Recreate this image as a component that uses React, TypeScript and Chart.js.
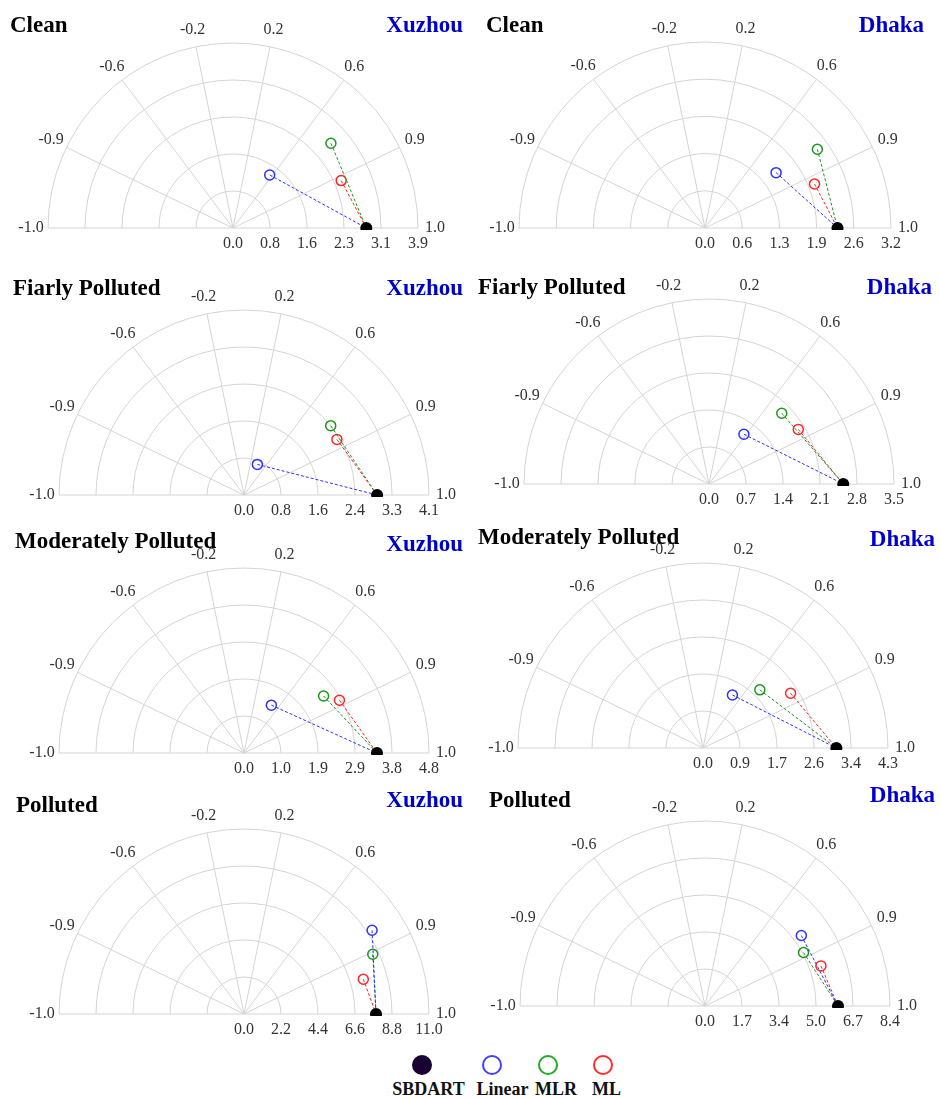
import React, { useEffect, useRef } from "react";
import { Chart, registerables } from "chart.js";

Chart.register(...registerables);

// ---------------- DATA ----------------
const categories = [
  "Clean", "Clean",
  "Fiarly Polluted", "Fiarly Polluted",
  "Moderately Polluted", "Moderately Polluted",
  "Polluted", "Polluted",
];
const cities = ["Xuzhou", "Dhaka", "Xuzhou", "Dhaka", "Xuzhou", "Dhaka", "Xuzhou", "Dhaka"];

const seriesNames = ["SBDART", "Linear", "MLR", "ML"];

// std-dev axis maxima and tick labels
const stdMax = [3.9, 3.2, 4.1, 3.5, 4.8, 4.3, 11.0, 8.4];
const stdTickLabels = [
  ["0.0", "0.8", "1.6", "2.3", "3.1", "3.9"],
  ["0.0", "0.6", "1.3", "1.9", "2.6", "3.2"],
  ["0.0", "0.8", "1.6", "2.4", "3.3", "4.1"],
  ["0.0", "0.7", "1.4", "2.1", "2.8", "3.5"],
  ["0.0", "1.0", "1.9", "2.9", "3.8", "4.8"],
  ["0.0", "0.9", "1.7", "2.6", "3.4", "4.3"],
  ["0.0", "2.2", "4.4", "6.6", "8.8", "11.0"],
  ["0.0", "1.7", "3.4", "5.0", "6.7", "8.4"],
];

// correlation grid
const corrTicks = [-0.9, -0.6, -0.2, 0.2, 0.6, 0.9];
const corrTickLabels = ["-0.9", "-0.6", "-0.2", "0.2", "0.6", "0.9"];
const corrEndLabels = ["-1.0", "1.0"];

// reference (SBDART) std
const refStd = [2.81, 2.28, 2.95, 2.54, 3.45, 3.10, 7.85, 6.04];
// Linear
const linearStd = [1.36, 1.55, 0.74, 1.15, 1.43, 1.41, 9.10, 5.42];
const linearCorr = [0.569, 0.789, 0.40, 0.574, 0.496, 0.485, 0.837, 0.807];
// MLR
const mlrStd = [2.73, 2.36, 2.46, 1.92, 2.54, 1.89, 8.44, 5.09];
const mlrCorr = [0.756, 0.819, 0.781, 0.717, 0.813, 0.699, 0.907, 0.879];
// ML
const mlStd = [2.49, 2.03, 2.40, 1.98, 2.83, 2.40, 7.39, 5.57];
const mlCorr = [0.916, 0.928, 0.858, 0.853, 0.875, 0.848, 0.960, 0.945];

// ---------------- STYLE / LAYOUT ----------------
const GRID = "#d4d4d4";
const LABEL = "#333333";
const CITY = "#0000cc";
const REF_COLOR = "#000000";
const MODEL_COLORS = ["#3030ff", "#1e961e", "#ff2424"];
const LEGEND_COLORS = ["#1a0033", "#4040ff", "#22aa22", "#ff2a2a"];
const SERIF = "'Liberation Serif', 'Times New Roman', serif";

type Layout = {
  left: number; top: number; width: number; height: number;
  cx: number; cy: number; R: number;
  titleX: number; titleY: number; cityX: number; cityY: number;
};

const layouts: Layout[] = [
  { left: 0, top: 0, width: 470, height: 262, cx: 233, cy: 228, R: 185, titleX: 10, titleY: 32, cityX: 463, cityY: 32 },
  { left: 470, top: 0, width: 470, height: 262, cx: 705, cy: 228, R: 186, titleX: 486, titleY: 32, cityX: 924, cityY: 32 },
  { left: 0, top: 265, width: 470, height: 262, cx: 244, cy: 495, R: 185, titleX: 13, titleY: 295, cityX: 463, cityY: 295 },
  { left: 470, top: 265, width: 470, height: 262, cx: 709, cy: 484, R: 185, titleX: 478, titleY: 294, cityX: 932, cityY: 294 },
  { left: 0, top: 520, width: 470, height: 262, cx: 244, cy: 753, R: 185, titleX: 15, titleY: 548, cityX: 463, cityY: 551 },
  { left: 470, top: 520, width: 470, height: 262, cx: 703, cy: 748, R: 185, titleX: 478, titleY: 544, cityX: 935, cityY: 546 },
  { left: 0, top: 776, width: 470, height: 262, cx: 244, cy: 1014, R: 185, titleX: 16, titleY: 812, cityX: 463, cityY: 807 },
  { left: 470, top: 776, width: 470, height: 262, cx: 705, cy: 1006, R: 185, titleX: 489, titleY: 807, cityX: 935, cityY: 802 },
];

function toXY(std: number, corr: number) {
  return { x: std * corr, y: std * Math.sqrt(Math.max(0, 1 - corr * corr)) };
}

function makeGridPlugin(i: number) {
  const L = layouts[i];
  return {
    id: "taylorGrid" + i,
    beforeDatasetsDraw(chart: any) {
      const ctx: CanvasRenderingContext2D = chart.ctx;
      const xs = chart.scales.x;
      const ys = chart.scales.y;
      const S = stdMax[i];
      const cx = xs.getPixelForValue(0);
      const cy = ys.getPixelForValue(0);
      const R = xs.getPixelForValue(S) - cx;
      ctx.save();
      ctx.strokeStyle = GRID;
      ctx.lineWidth = 1;
      // arcs
      for (let k = 1; k <= 5; k++) {
        ctx.beginPath();
        ctx.arc(cx, cy, (R * k) / 5, Math.PI, 2 * Math.PI);
        ctx.stroke();
      }
      // baseline
      ctx.beginPath();
      ctx.moveTo(cx - R, cy);
      ctx.lineTo(cx + R, cy);
      ctx.stroke();
      // radial lines
      corrTicks.forEach((c) => {
        const th = Math.acos(c);
        ctx.beginPath();
        ctx.moveTo(cx, cy);
        ctx.lineTo(cx + R * Math.cos(th), cy - R * Math.sin(th));
        ctx.stroke();
      });
      // correlation labels
      ctx.fillStyle = LABEL;
      ctx.font = `16px ${SERIF}`;
      ctx.textAlign = "center";
      ctx.textBaseline = "middle";
      const lr = R + 17;
      corrTicks.forEach((c, k) => {
        const th = Math.acos(c);
        ctx.fillText(corrTickLabels[k], cx + lr * Math.cos(th), cy - lr * Math.sin(th));
      });
      ctx.fillText(corrEndLabels[0], cx - lr, cy);
      ctx.fillText(corrEndLabels[1], cx + lr, cy);
      // std labels
      stdTickLabels[i].forEach((t, k) => {
        ctx.fillText(t, cx + (R * k) / 5, cy + 16);
      });
      // titles
      ctx.textBaseline = "alphabetic";
      ctx.font = `bold 23px ${SERIF}`;
      ctx.textAlign = "left";
      ctx.fillStyle = "#000000";
      ctx.fillText(categories[i], L.titleX - L.left, L.titleY - L.top);
      ctx.textAlign = "right";
      ctx.fillStyle = CITY;
      ctx.fillText(cities[i], L.cityX - L.left, L.cityY - L.top);
      ctx.restore();
    },
  };
}

function Panel({ i }: { i: number }) {
  const ref = useRef<HTMLCanvasElement>(null);
  const L = layouts[i];
  useEffect(() => {
    if (!ref.current) return;
    const S = stdMax[i];
    const models = [
      { std: linearStd[i], corr: linearCorr[i] },
      { std: mlrStd[i], corr: mlrCorr[i] },
      { std: mlStd[i], corr: mlCorr[i] },
    ];
    const datasets: any[] = [
      {
        label: seriesNames[0],
        data: [{ x: refStd[i], y: 0 }],
        pointRadius: 6,
        pointBackgroundColor: REF_COLOR,
        pointBorderColor: REF_COLOR,
        pointBorderWidth: 0,
        clip: { left: false, right: false, top: false, bottom: 2 },
        order: 0,
      },
    ];
    models.forEach((m, k) => {
      const p = toXY(m.std, m.corr);
      datasets.push({
        label: seriesNames[k + 1],
        data: [p, { x: refStd[i], y: 0 }],
        showLine: true,
        borderColor: MODEL_COLORS[k],
        borderWidth: 1,
        borderDash: [3, 2],
        pointRadius: [5, 0],
        pointBorderColor: MODEL_COLORS[k],
        pointBackgroundColor: "rgba(0,0,0,0)",
        pointBorderWidth: 1.5,
        clip: false,
        order: 1 + k,
      });
    });
    const chart = new Chart(ref.current, {
      type: "scatter",
      data: { datasets },
      options: {
        responsive: false,
        animation: false,
        events: [],
        layout: {
          padding: {
            left: L.cx - L.R - L.left,
            right: L.left + L.width - (L.cx + L.R),
            top: L.cy - L.R - L.top,
            bottom: L.top + L.height - L.cy,
          },
        },
        scales: {
          x: { type: "linear", min: -S, max: S, display: false },
          y: { type: "linear", min: 0, max: S, display: false },
        },
        plugins: {
          legend: { display: false },
          tooltip: { enabled: false },
          title: { display: false },
        },
      } as any,
      plugins: [makeGridPlugin(i)],
    });
    return () => chart.destroy();
  }, [i]);
  return (
    <canvas
      ref={ref}
      width={L.width}
      height={L.height}
      style={{ position: "absolute", left: L.left, top: L.top, width: L.width, height: L.height }}
    />
  );
}

const legendCircleX = [422, 492, 548, 603];
const legendLabelX = [428.5, 502.5, 556, 606.5];

export default function App() {
  return (
    <div style={{ position: "absolute", left: 0, top: 0, width: 940, height: 1098, background: "#fff", overflow: "hidden" }}>
      {layouts.map((_, i) => (
        <Panel key={i} i={i} />
      ))}
      {seriesNames.map((name, k) => (
        <div
          key={"c" + k}
          style={{
            position: "absolute",
            left: legendCircleX[k] - 10,
            top: 1065 - 10,
            width: 20,
            height: 20,
            boxSizing: "border-box",
            borderRadius: "50%",
            border: `2px solid ${LEGEND_COLORS[k]}`,
            background: k === 0 ? LEGEND_COLORS[0] : "transparent",
          }}
        />
      ))}
      {seriesNames.map((name, k) => (
        <div
          key={"l" + k}
          style={{
            position: "absolute",
            left: legendLabelX[k],
            top: 1080,
            transform: "translateX(-50%)",
            font: `bold 18px ${SERIF}`,
            lineHeight: "18px",
            color: "#111",
            whiteSpace: "nowrap",
          }}
        >
          {name}
        </div>
      ))}
    </div>
  );
}
